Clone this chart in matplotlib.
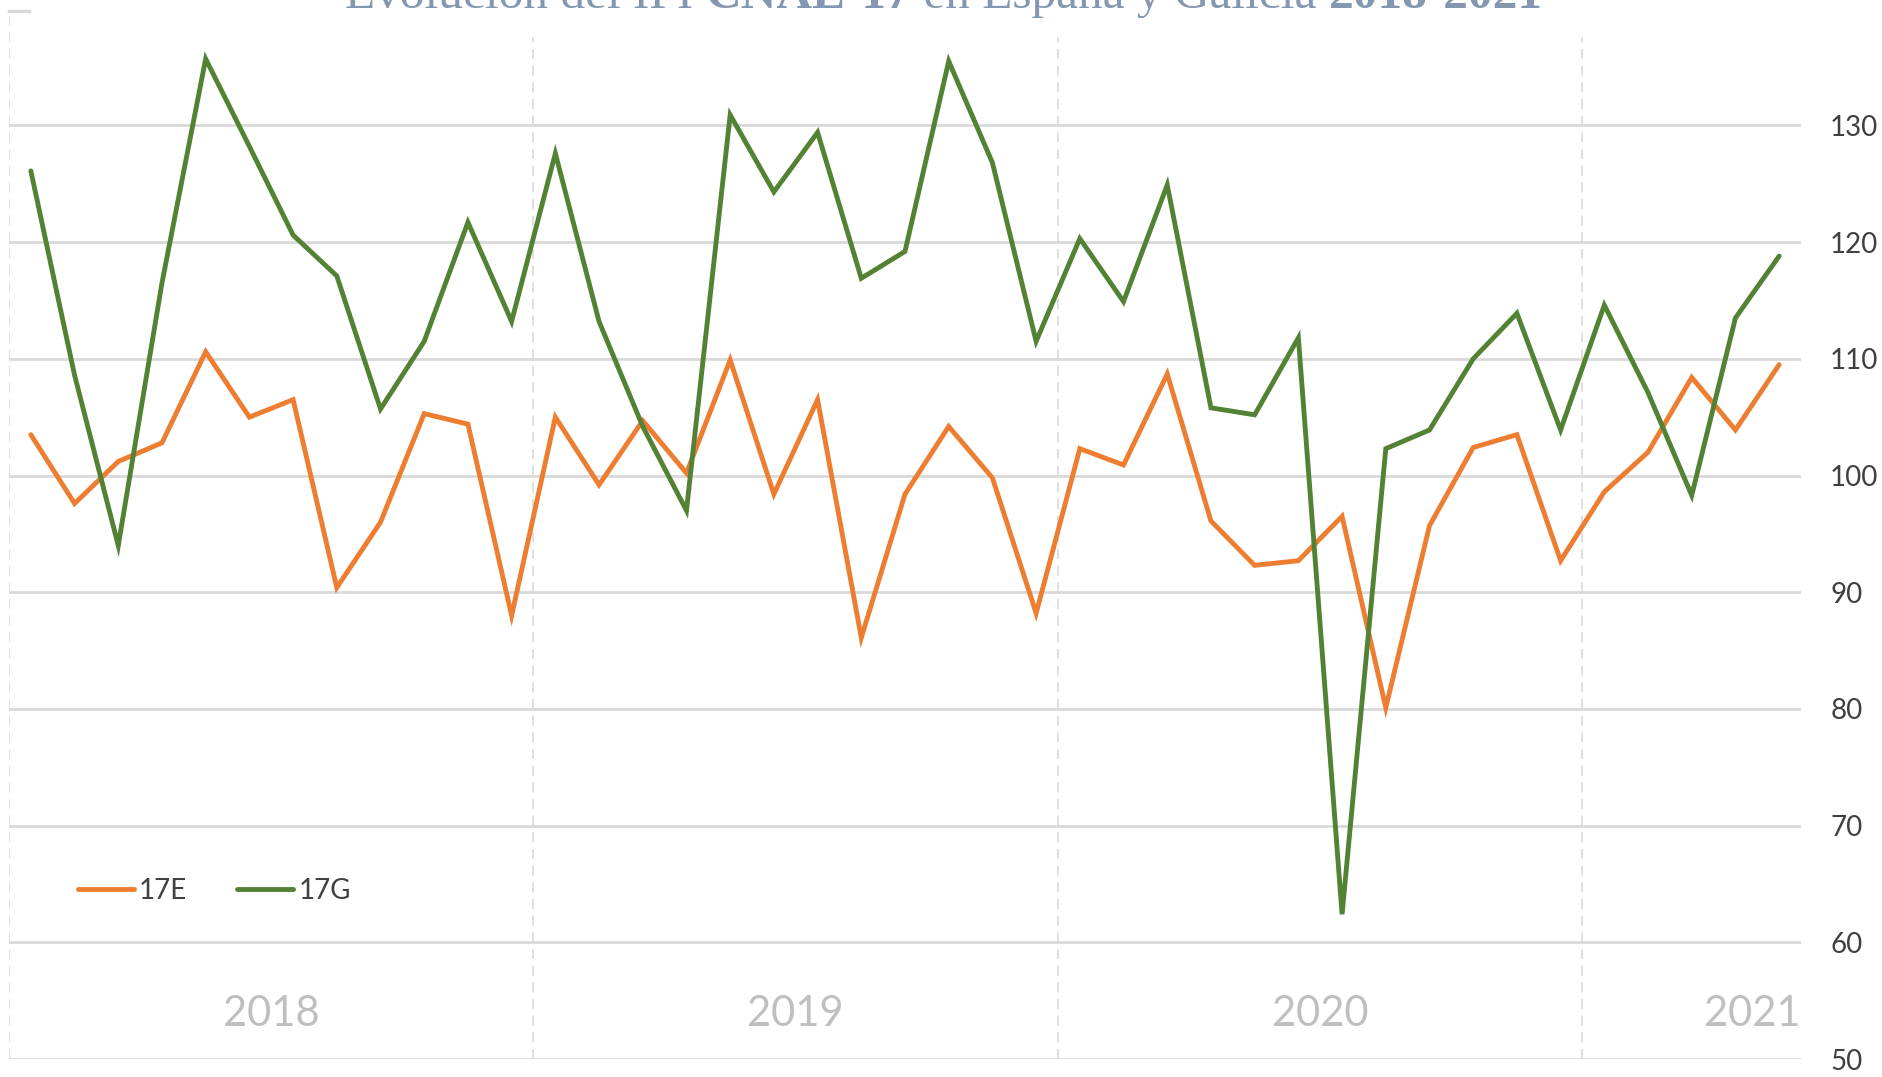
import matplotlib
matplotlib.use("Agg")
import matplotlib.pyplot as plt
import numpy as np

# IPI CNAE-17, monthly, Jan 2018 - May 2021
years = ["2018", "2019", "2020", "2021"]
months_per_year = [12, 12, 12, 5]
ipi_17e = [103.5, 97.6, 101.2, 102.8, 110.6, 105.0, 106.5, 90.4, 96.0, 105.3, 104.4, 88.0,
           105.0, 99.2, 104.7, 100.2, 109.9, 98.4, 106.5, 86.1, 98.4, 104.2, 99.8, 88.2,
           102.3, 100.9, 108.7, 96.1, 92.3, 92.7, 96.5, 80.1, 95.7, 102.4, 103.5, 92.7,
           98.6, 102.0, 108.4, 103.9, 109.5]
ipi_17g = [126.1, 108.6, 94.0, 116.5, 135.7, 128.2, 120.6, 117.1, 105.7, 111.5, 121.7, 113.2,
           127.6, 113.2, 104.2, 97.0, 130.9, 124.3, 129.4, 116.9, 119.2, 135.5, 126.8, 111.5,
           120.3, 114.9, 124.9, 105.8, 105.2, 111.8, 62.4, 102.3, 103.9, 110.0, 113.9, 103.9,
           114.6, 107.1, 98.3, 113.5, 118.8]
y_ticks = [50, 60, 70, 80, 90, 100, 110, 120, 130]
series_names = ["17E", "17G"]
colors = ["#ED7D31", "#548235"]

W, H = 1882, 1077
fig = plt.figure(figsize=(W / 100, H / 100), dpi=100)
# axes box in pixels: left 9, right 1801, bottom 1059, top for y=140
bottom_px, px_per_unit = 1059, 11.67
top_px = bottom_px - 90 * px_per_unit
ax = fig.add_axes([9 / W, 1 - bottom_px / H, (1801 - 9) / W, (bottom_px - top_px) / H])

x = np.arange(len(ipi_17e))
ax.set_xlim(-0.5, len(ipi_17e) - 0.5)
ax.set_ylim(50, 140)

# horizontal gridlines
for t in y_ticks:
    ax.axhline(t, color="#d9d9d9", lw=2, zorder=1)

# year separators (dashed)
bounds = np.cumsum([0] + months_per_year) - 0.5
ax.vlines(bounds[0], 50, 139.5, color="#d9d9d9", lw=1.2, linestyles=(0, (6, 4)), zorder=1)
ax.vlines(bounds[1:-1], 50, 137.6, color="#d9d9d9", lw=1.2, linestyles=(0, (6, 4)), zorder=1)
ax.plot([-0.5, -0.05], [139.8, 139.8], color="#d9d9d9", lw=2.5, clip_on=False)

for vals, name, c in zip([ipi_17e, ipi_17g], series_names, colors):
    ax.plot(x, vals, color=c, lw=3.5, label=name, zorder=3,
            solid_joinstyle="miter", solid_capstyle="round")

# year labels inside the plot
for i, yr in enumerate(years):
    if i < len(years) - 1:
        ax.text((bounds[i] + bounds[i + 1]) / 2, 52.8, yr, ha="center", va="baseline",
                fontsize=30, color="#bfbfbf", family="Lato")
    else:
        ax.text(ax.get_xlim()[1], 52.8, yr, ha="right", va="baseline",
                fontsize=30, color="#bfbfbf", family="Lato")

ax.yaxis.tick_right()
ax.set_yticks(y_ticks)
ax.set_yticklabels([str(t) for t in y_ticks], family="Lato", fontsize=20, color="#404040")
ax.tick_params(axis="y", length=0, pad=21)
ax.set_xticks([])
for s in ax.spines.values():
    s.set_visible(False)

leg = ax.legend(loc="center left", bbox_to_anchor=(78 / W, 1 - 891 / H),
                bbox_transform=fig.transFigure, ncol=2, frameon=False,
                prop={"family": "Lato", "size": 20}, handlelength=2.0,
                handletextpad=0.2, columnspacing=1.8, borderpad=0, borderaxespad=0)
for txt in leg.get_texts():
    txt.set_color("#404040")

# title, partly cut by the top edge, with bold pieces
pieces = [("Evolución del IPI ", "normal"), ("CNAE-17", "bold"),
          (" en España y Galicia ", "normal"), ("2018-2021", "bold")]
fig.canvas.draw()
renderer = fig.canvas.get_renderer()
texts = []
for s, w in pieces:
    t = fig.text(0, 1 - 8 / H, s, fontsize=35.6, family="Liberation Serif", weight=w,
                 color="#8497B0", va="baseline", ha="left")
    texts.append(t)
widths = [t.get_window_extent(renderer).width for t in texts]
x0 = 944 - sum(widths) / 2
for t, wd in zip(texts, widths):
    t.set_x(x0 / W)
    x0 += wd

fig.savefig("out.png", dpi=100)
